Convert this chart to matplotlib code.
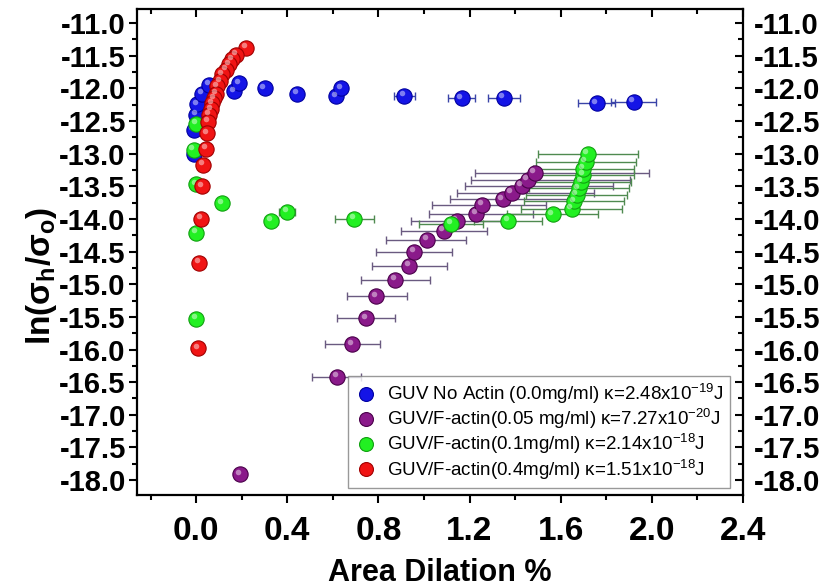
import numpy as np
import matplotlib.pyplot as plt
import matplotlib.lines as mlines
from matplotlib.lines import Line2D
from matplotlib.ticker import MultipleLocator, FormatStrFormatter
from matplotlib.transforms import offset_copy

plt.rcParams['font.family'] = ['Liberation Sans', 'DejaVu Sans']
plt.rcParams['mathtext.fontset'] = 'custom'
plt.rcParams['mathtext.rm'] = 'Liberation Sans'
plt.rcParams['mathtext.it'] = 'Liberation Sans:italic'
plt.rcParams['mathtext.bf'] = 'Liberation Sans:bold'
plt.rcParams['axes.unicode_minus'] = False

# GUV No Actin (0.0 mg/ml)
blue_x = [-0.01, -0.01, 0.0, 0.004, 0.026, 0.057, 0.167, 0.189, 0.30, 0.444,
          0.615, 0.637, 0.914, 1.165, 1.35, 1.758, 1.92]
blue_y = [-13.01, -12.63, -12.40, -12.24, -12.08, -11.94, -12.04, -11.92, -12.0, -12.08,
          -12.12, -12.0, -12.11, -12.15, -12.14, -12.23, -12.2]
blue_err = [0.005, 0.005, 0.005, 0.005, 0.005, 0.005, 0.005, 0.005, 0.005, 0.005,
            0.01, 0.01, 0.045, 0.06, 0.07, 0.08, 0.1]

# GUV/F-actin (0.05 mg/ml)
purple_x = [0.193, 0.62, 0.686, 0.747, 0.79, 0.875, 0.936, 0.958, 1.015, 1.086,
            1.143, 1.23, 1.257, 1.345, 1.385, 1.43, 1.455, 1.486]
purple_y = [-17.91, -16.42, -15.92, -15.52, -15.18, -14.93, -14.72, -14.50, -14.32, -14.18,
            -14.03, -13.92, -13.78, -13.70, -13.60, -13.49, -13.40, -13.29]
purple_err_lo = [0.0, 0.11, 0.12, 0.127, 0.13, 0.15, 0.163, 0.167, 0.18, 0.185,
                 0.20, 0.21, 0.22, 0.23, 0.24, 0.25, 0.25, 0.26]
purple_err_hi = [0.0, 0.105, 0.12, 0.127, 0.136, 0.15, 0.163, 0.167, 0.17, 0.19,
                 0.22, 0.25, 0.28, 0.32, 0.36, 0.40, 0.45, 0.50]

# GUV/F-actin (0.1 mg/ml)
green_x = [0.0, -0.01, 0.0, 0.114, 0.0, 0.0, 0.33, 0.40, 0.695, 1.12, 1.37,
           1.565, 1.648, 1.66, 1.67, 1.68, 1.69, 1.70, 1.70, 1.71, 1.72]
green_y = [-12.54, -12.94, -13.47, -13.76, -14.21, -15.53, -14.03, -13.89, -14.0, -14.07, -14.03,
           -13.93, -13.84, -13.73, -13.63, -13.53, -13.43, -13.32, -13.23, -13.12, -13.0]
green_err = [0.01, 0.01, 0.01, 0.01, 0.01, 0.01, 0.03, 0.035, 0.085, 0.14, 0.15,
             0.2, 0.22, 0.22, 0.22, 0.22, 0.22, 0.22, 0.22, 0.22, 0.22]

# GUV/F-actin (0.4 mg/ml)
red_x = [0.22, 0.176, 0.158, 0.145, 0.132, 0.114, 0.105, 0.092, 0.088, 0.079, 0.07,
         0.066, 0.057, 0.053, 0.048, 0.044, 0.031, 0.026, 0.022, 0.013, 0.009]
red_y = [-11.38, -11.48, -11.55, -11.63, -11.71, -11.78, -11.89, -11.97, -12.08, -12.15, -12.23,
         -12.32, -12.40, -12.51, -12.69, -12.92, -13.17, -13.50, -14.0, -14.67, -15.98]
red_err = [0.008] * len(red_x)

labels = ['GUV No Actin (0.0mg/ml) κ=2.48x10$^{-19}$J',
          'GUV/F-actin(0.05 mg/ml) κ=7.27x10$^{-20}$J',
          'GUV/F-actin(0.1mg/ml) κ=2.14x10$^{-18}$J',
          'GUV/F-actin(0.4mg/ml) κ=1.51x10$^{-18}$J']

fig = plt.figure(figsize=(8.3, 5.88), dpi=100)
ax = fig.add_axes([0.165, 0.158, 0.730, 0.827])

series = [
    (blue_x, blue_y, blue_err, '#1414e6', '#0000a0', '#3a44a8'),
    (purple_x, purple_y, [purple_err_lo, purple_err_hi], '#8a1a8a', '#4a004a', '#6a5a80'),
    (green_x, green_y, green_err, '#22f022', '#10a010', '#4f8a50'),
    (red_x, red_y, red_err, '#f01414', '#a00000', '#7a2020'),
]

hl = offset_copy(ax.transData, fig=fig, x=-2.5, y=2.5, units='dots')
for xs, ys, err, fc, ec, errc in series:
    ax.errorbar(xs, ys, xerr=err, fmt='none', ecolor=errc, elinewidth=1.0,
                capsize=3, capthick=1.0, zorder=2)
    ax.plot(xs, ys, 'o', ms=11, mfc=fc, mec=ec, mew=0.8, zorder=3)
    ax.plot(xs, ys, 'o', ms=4, mfc='white', mec='none', alpha=0.45, zorder=3,
            transform=hl)

ax.set_xlim(-0.26, 2.4)
ax.set_ylim(-18.23, -10.78)

ax.xaxis.set_major_locator(MultipleLocator(0.4))
ax.xaxis.set_minor_locator(MultipleLocator(0.2))
ax.yaxis.set_major_locator(MultipleLocator(0.5))
ax.yaxis.set_minor_locator(MultipleLocator(0.25))
ax.xaxis.set_major_formatter(FormatStrFormatter('%.1f'))
ax.yaxis.set_major_formatter(FormatStrFormatter('%.1f'))

for s in ax.spines.values():
    s.set_linewidth(1.6)

ax.tick_params(which='both', direction='out', width=1.5, top=True, right=True,
               labelright=True)
ax.tick_params(which='major', length=6)
ax.tick_params(which='minor', length=3.5)
ax.tick_params(axis='y', labelsize=21, pad=2)
ax.tick_params(axis='x', labelsize=24, pad=9)

# top and right ticks point into the frame, left and bottom point out
for t in ax.yaxis.get_major_ticks() + ax.yaxis.get_minor_ticks():
    t.tick2line.set_marker(mlines.TICKLEFT)
for t in ax.xaxis.get_major_ticks() + ax.xaxis.get_minor_ticks():
    t.tick2line.set_marker(mlines.TICKDOWN)

for t in ax.get_yticklabels(which='both'):
    t.set_fontweight('bold')
for t in ax.yaxis.get_major_ticks():
    t.label2.set_fontweight('bold')
for t in ax.get_xticklabels():
    t.set_fontweight('bold')
    t.set_fontfamily(['Liberation Sans Narrow', 'Liberation Sans'])

ax.set_xlabel('Area Dilation %', fontsize=22, fontweight='bold',
              family=['Liberation Sans Narrow', 'Liberation Sans'], labelpad=8)
ax.set_ylabel('ln(σ$_\\mathbf{h}$/σ$_\\mathbf{o}$)', fontsize=24, fontweight='bold')
ax.yaxis.set_label_coords(-0.128, 0.45)

handles = [Line2D([], [], ls='none', marker='o', ms=10, mfc=s[3], mec=s[4], mew=0.8)
           for s in series]
leg = ax.legend(handles, labels, loc='lower right', bbox_to_anchor=(0.9785, 0.0144),
                borderaxespad=0, fontsize=13.5, frameon=True, fancybox=False,
                edgecolor='#808080', labelspacing=0.05, handletextpad=0.5,
                handlelength=1.2, borderpad=0.35)
leg.get_frame().set_linewidth(1.0)

fig.savefig('out.png', dpi=100)
